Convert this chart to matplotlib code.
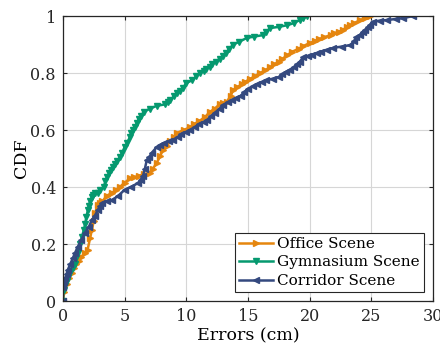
import numpy as np
import matplotlib
matplotlib.use("Agg")
import matplotlib.pyplot as plt

# values (error in cm, cumulative fraction)
office_x = [0, 0.1, 0.3, 0.5, 0.7, 0.9, 1.1, 1.3, 1.5, 1.8, 2.0, 2.2, 2.35, 2.5, 2.6, 2.84,
            3.0, 3.2, 3.57, 4.0, 4.3, 4.6, 5.0, 5.43, 5.8, 6.2, 6.6, 7.06, 7.3, 7.6, 7.9,
            8.1, 8.4, 8.7, 9.0, 9.25, 9.8, 10.3, 10.6, 11.0, 11.5, 11.9, 12.3, 12.7, 13.0,
            13.3, 13.6, 13.8, 14.1, 14.5, 14.8, 15.2, 15.6, 16.0, 16.4, 16.8, 17.1, 17.5,
            17.8, 18.2, 18.6, 19.1, 19.5, 20.0, 20.4, 20.8, 21.2, 21.7, 22.0, 22.4, 22.7,
            23.0, 23.3, 23.6, 24.1, 24.5, 24.9]
office_y = [0, 0.03, 0.06, 0.08, 0.1, 0.115, 0.13, 0.14, 0.155, 0.17, 0.18, 0.22, 0.25,
            0.28, 0.31, 0.337, 0.345, 0.35, 0.37, 0.38, 0.39, 0.40, 0.415, 0.43, 0.435,
            0.44, 0.445, 0.45, 0.465, 0.484, 0.51, 0.53, 0.545, 0.56, 0.575, 0.59, 0.60,
            0.61, 0.62, 0.63, 0.645, 0.663, 0.675, 0.69, 0.695, 0.70, 0.72, 0.74, 0.75,
            0.76, 0.77, 0.78, 0.79, 0.80, 0.81, 0.82, 0.83, 0.84, 0.85, 0.863, 0.875,
            0.885, 0.895, 0.905, 0.912, 0.92, 0.926, 0.933, 0.94, 0.945, 0.952, 0.96,
            0.968, 0.975, 0.986, 0.993, 1.0]

gym_x = [0, 0.05, 0.2, 0.3, 0.45, 0.6, 0.8, 0.97, 1.1, 1.2, 1.4, 1.54, 1.7, 1.8, 1.9,
         2.03, 2.1, 2.2, 2.35, 2.45, 2.6, 2.84, 3.0, 3.3, 3.45, 3.57, 3.75, 3.9, 4.05,
         4.2, 4.4, 4.62, 4.8, 5.0, 5.2, 5.43, 5.55, 5.7, 5.85, 6.0, 6.15, 6.3, 6.6, 7.06,
         7.6, 8.27, 8.5, 8.68, 9.0, 9.25, 9.5, 9.73, 10.0, 10.5, 10.8, 11.1, 11.4, 11.6,
         11.9, 12.1, 12.4, 12.7, 13.0, 13.2, 13.5, 13.8, 14.3, 14.9, 15.5, 16.2, 16.5,
         16.8, 17.5, 18.2, 18.7, 19.2, 19.5, 19.8]
gym_y = [0, 0.04, 0.055, 0.07, 0.085, 0.1, 0.115, 0.13, 0.15, 0.17, 0.2, 0.225, 0.25,
         0.27, 0.295, 0.32, 0.335, 0.35, 0.365, 0.372, 0.38, 0.38, 0.39, 0.40, 0.42,
         0.435, 0.448, 0.46, 0.47, 0.48, 0.492, 0.505, 0.52, 0.54, 0.555, 0.575, 0.588,
         0.6, 0.612, 0.625, 0.638, 0.65, 0.665, 0.675, 0.685, 0.69, 0.697, 0.705, 0.718,
         0.73, 0.738, 0.747, 0.765, 0.775, 0.788, 0.80, 0.808, 0.815, 0.822, 0.83, 0.84,
         0.85, 0.86, 0.87, 0.885, 0.9, 0.91, 0.923, 0.928, 0.933, 0.945, 0.958, 0.962,
         0.968, 0.975, 0.986, 0.993, 1.0]

corr_x = [0, 0.0, 0.1, 0.2, 0.3, 0.4, 0.6, 0.8, 1.0, 1.2, 1.5, 1.8, 2.1, 2.35, 2.6, 2.84,
          3.0, 3.2, 3.6, 4.0, 4.5, 5.0, 5.5, 6.1, 6.3, 6.5, 6.65, 6.8, 7.0, 7.2, 7.6, 7.9,
          8.2, 8.6, 8.9, 9.3, 9.6, 10.0, 10.3, 10.7, 11.0, 11.4, 11.7, 12.0, 12.3, 12.7,
          13.0, 13.4, 13.7, 14.0, 14.4, 14.7, 15.0, 15.4, 15.7, 16.1, 16.5, 17.0, 17.5,
          17.8, 18.1, 18.4, 18.7, 19.0, 19.2, 19.5, 19.9, 20.2, 20.6, 20.9, 21.4, 21.9,
          22.6, 23.3, 23.6, 23.8, 24.1, 24.3, 24.5, 24.7, 24.9, 25.1, 25.7, 26.3, 27.0,
          27.6, 28.4]
corr_y = [0, 0.05, 0.065, 0.08, 0.095, 0.11, 0.13, 0.15, 0.17, 0.19, 0.215, 0.24, 0.26,
          0.285, 0.3, 0.32, 0.333, 0.345, 0.35, 0.354, 0.37, 0.39, 0.40, 0.414, 0.425,
          0.44, 0.465, 0.495, 0.505, 0.52, 0.54, 0.548, 0.555, 0.56, 0.565, 0.575, 0.585,
          0.592, 0.60, 0.61, 0.62, 0.628, 0.635, 0.648, 0.66, 0.675, 0.688, 0.697, 0.705,
          0.712, 0.72, 0.733, 0.745, 0.753, 0.76, 0.768, 0.775, 0.78, 0.786, 0.795, 0.805,
          0.812, 0.82, 0.83, 0.84, 0.856, 0.86, 0.865, 0.87, 0.875, 0.882, 0.888, 0.893,
          0.898, 0.912, 0.926, 0.935, 0.945, 0.952, 0.96, 0.97, 0.98, 0.984, 0.986, 0.99,
          0.993, 1.0]

labels = ["Office Scene", "Gymnasium Scene", "Corridor Scene"]
colors = ["#E5860F", "#05996F", "#34497F"]

plt.rcParams["font.family"] = ["DejaVu Serif"]
plt.rcParams["font.size"] = 11.5

fig = plt.figure(figsize=(4.4, 3.49), dpi=100)
ax = fig.add_axes([0.143, 0.1375, 0.841, 0.8165])

ax.plot(office_x, office_y, color=colors[0], marker=">", ms=4.5, lw=1.8, label=labels[0])
ax.plot(gym_x, gym_y, color=colors[1], marker="v", ms=4.5, lw=1.8, label=labels[1])
ax.plot(corr_x, corr_y, color=colors[2], marker="<", ms=4.5, lw=1.8, label=labels[2])

ax.set_xlim(0, 30)
ax.set_ylim(0, 1)
ax.set_xticks([0, 5, 10, 15, 20, 25, 30])
ax.set_yticks([0, 0.2, 0.4, 0.6, 0.8, 1])
ax.set_yticklabels(["0", "0.2", "0.4", "0.6", "0.8", "1"])
ax.grid(True, color="#d6d6d6", lw=0.8)
ax.set_axisbelow(True)
ax.tick_params(direction="in", top=True, right=True, length=3, colors="#262626", pad=5)
for s in ax.spines.values():
    s.set_color("#262626")
    s.set_linewidth(0.9)

ax.set_xlabel("Errors (cm)", fontsize=12.5, labelpad=2)
ax.set_ylabel("CDF", fontsize=12.5, labelpad=0)

leg = ax.legend(loc="lower right", fancybox=False, framealpha=1, edgecolor="#262626",
                fontsize=11, borderpad=0.25, labelspacing=0.3, handlelength=2.2,
                handletextpad=0.3, borderaxespad=0.6)
leg.get_frame().set_linewidth(0.8)

fig.savefig("out.png", dpi=100)
